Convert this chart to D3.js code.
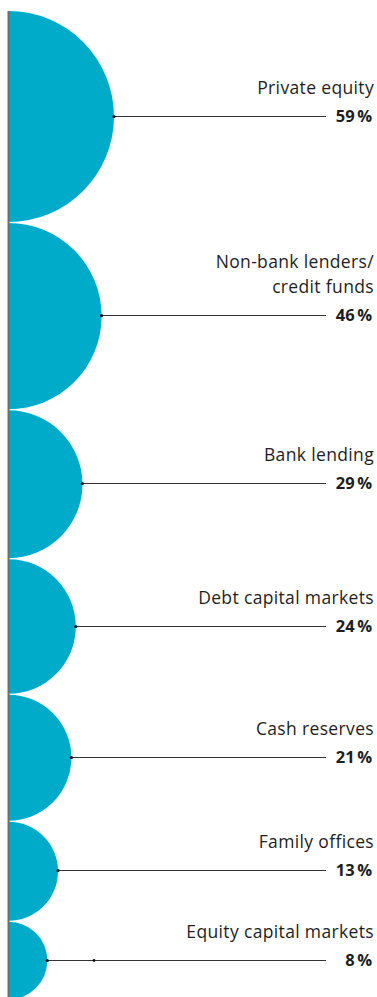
<!DOCTYPE html>
<html>
<head>
<meta charset="utf-8">
<script src="https://cdn.jsdelivr.net/npm/d3@7"></script>
<style>
  html, body { margin: 0; padding: 0; background: #fff; }
  svg { display: block; }
  text { font-family: "Open Sans", "Noto Sans", sans-serif; fill: #1e1e1e; }
</style>
</head>
<body>
<svg id="chart" width="377" height="997"></svg>
<script>
// Sources of funding, share of respondents (%)
const categories = [
  ["Private equity"],
  ["Non-bank lenders/", "credit funds"],
  ["Bank lending"],
  ["Debt capital markets"],
  ["Cash reserves"],
  ["Family offices"],
  ["Equity capital markets"]
];
const values = [59, 46, 29, 24, 21, 13, 8];

const W = 377, H = 997;
const axisX = 8.5;        // spine the half-circles hang from
const startY = 11;        // first circle's top edge
const gap = 1;            // space between neighbouring circles
const lineEnd = 326;      // where leader lines stop
const labelRight = 374;
const valueRight = 372;

const svg = d3.select("#chart");

// area-proportional radius
const r = d3.scaleSqrt().domain([0, 59]).range([0, 105.5]);

// stack circles top to bottom
let y = startY;
const rows = values.map((v, i) => {
  const rad = r(v);
  const cy = y + rad;
  y = cy + rad + gap;
  return { label: categories[i], value: v, r: rad, cy };
});

// clip to the right of the spine so only half-circles show
svg.append("clipPath").attr("id", "half")
  .append("rect").attr("x", axisX).attr("y", 0).attr("width", W).attr("height", H);

svg.append("g").attr("clip-path", "url(#half)")
  .selectAll("circle").data(rows).join("circle")
  .attr("cx", axisX).attr("cy", d => d.cy).attr("r", d => d.r)
  .attr("fill", "#00abc9");

svg.append("line")
  .attr("x1", axisX).attr("x2", axisX)
  .attr("y1", startY).attr("y2", H)
  .attr("stroke", "#6e6e6e").attr("stroke-width", 2);

const g = svg.append("g").selectAll("g").data(rows).join("g");

const ly = d => Math.round(d.cy) - 0.5;

g.append("line")
  .attr("x1", d => axisX + d.r).attr("x2", lineEnd)
  .attr("y1", ly).attr("y2", ly)
  .attr("stroke", "#333").attr("stroke-width", 1);

g.append("circle")
  .attr("cx", d => axisX + d.r).attr("cy", ly)
  .attr("r", 1.6).attr("fill", "#111");

// the short last leader carries a second knot
g.filter((d, i) => i === rows.length - 1).append("circle")
  .attr("cx", 94).attr("cy", ly)
  .attr("r", 1.4).attr("fill", "#111");

const pct = g.append("text")
  .attr("x", valueRight).attr("y", d => ly(d) + 5)
  .attr("text-anchor", "end")
  .style("font-size", "16.5px").style("font-weight", 700);
pct.append("tspan").text(d => d.value);
pct.append("tspan").attr("dx", 2.5).text("%");

g.each(function(d) {
  const n = d.label.length;
  d3.select(this).selectAll("text.lab").data(d.label).join("text")
    .attr("class", "lab")
    .attr("x", labelRight)
    .attr("y", (t, j) => ly(d) - 22.5 - (n - 1 - j) * 25)
    .attr("text-anchor", "end")
    .style("font-size", "17.5px").style("font-weight", 400)
    .style("letter-spacing", "0.35px")
    .text(t => t);
});
</script>
</body>
</html>
